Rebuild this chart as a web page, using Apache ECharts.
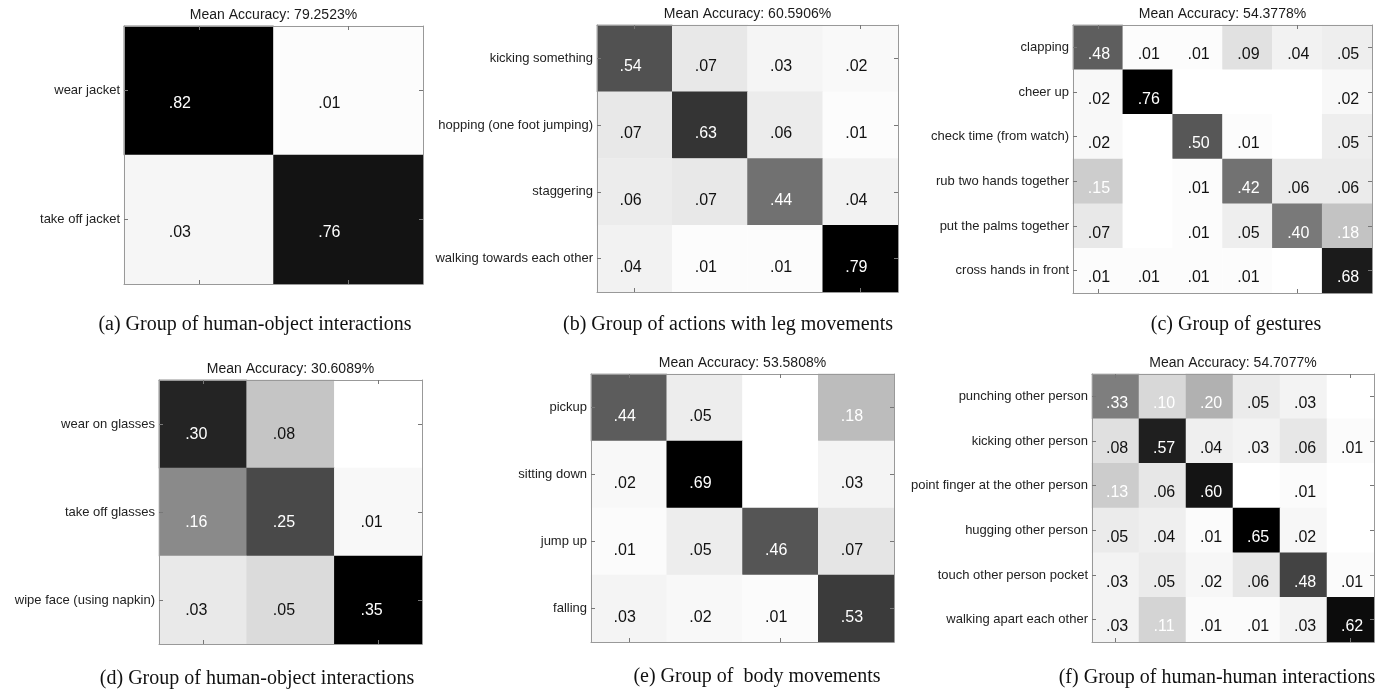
<!DOCTYPE html>
<html>
<head>
<meta charset="utf-8">
<title>Confusion matrices</title>
<script src="https://cdn.jsdelivr.net/npm/echarts@6/dist/echarts.min.js"></script>
<style>
  html, body { margin: 0; padding: 0; background: #fff; }
  #container { width: 1395px; height: 694px; }
</style>
</head>
<body>
<div id="container"></div>
<script>
// (a) human-object interactions
const aLabels = ['wear jacket', 'take off jacket'];
const aValues = [
  [0.82, 0.01],
  [0.03, 0.76]
];
const aMean = 'Mean Accuracy: 79.2523%';
const aCaption = '(a) Group of human-object interactions';

// (b) leg movements
const bLabels = ['kicking something', 'hopping (one foot jumping)', 'staggering', 'walking towards each other'];
const bValues = [
  [0.54, 0.07, 0.03, 0.02],
  [0.07, 0.63, 0.06, 0.01],
  [0.06, 0.07, 0.44, 0.04],
  [0.04, 0.01, 0.01, 0.79]
];
const bMean = 'Mean Accuracy: 60.5906%';
const bCaption = '(b) Group of actions with leg movements';

// (c) gestures
const cLabels = ['clapping', 'cheer up', 'check time (from watch)', 'rub two hands together', 'put the palms together', 'cross hands in front'];
const cValues = [
  [0.48, 0.01, 0.01, 0.09, 0.04, 0.05],
  [0.02, 0.76, 0, 0, 0, 0.02],
  [0.02, 0, 0.50, 0.01, 0, 0.05],
  [0.15, 0, 0.01, 0.42, 0.06, 0.06],
  [0.07, 0, 0.01, 0.05, 0.40, 0.18],
  [0.01, 0.01, 0.01, 0.01, 0, 0.68]
];
const cMean = 'Mean Accuracy: 54.3778%';
const cCaption = '(c) Group of gestures';

// (d) human-object interactions
const dLabels = ['wear on glasses', 'take off glasses', 'wipe face (using napkin)'];
const dValues = [
  [0.30, 0.08, 0],
  [0.16, 0.25, 0.01],
  [0.03, 0.05, 0.35]
];
const dMean = 'Mean Accuracy: 30.6089%';
const dCaption = '(d) Group of human-object interactions';

// (e) body movements
const eLabels = ['pickup', 'sitting down', 'jump up', 'falling'];
const eValues = [
  [0.44, 0.05, 0, 0.18],
  [0.02, 0.69, 0, 0.03],
  [0.01, 0.05, 0.46, 0.07],
  [0.03, 0.02, 0.01, 0.53]
];
const eMean = 'Mean Accuracy: 53.5808%';
const eCaption = '(e) Group of  body movements';

// (f) human-human interactions
const fLabels = ['punching other person', 'kicking other person', 'point finger at the other person', 'hugging other person', 'touch other person pocket', 'walking apart each other'];
const fValues = [
  [0.33, 0.10, 0.20, 0.05, 0.03, 0],
  [0.08, 0.57, 0.04, 0.03, 0.06, 0.01],
  [0.13, 0.06, 0.60, 0, 0.01, 0],
  [0.05, 0.04, 0.01, 0.65, 0.02, 0],
  [0.03, 0.05, 0.02, 0.06, 0.48, 0.01],
  [0.03, 0.11, 0.01, 0.01, 0.03, 0.62]
];
const fMean = 'Mean Accuracy: 54.7077%';
const fCaption = '(f) Group of human-human interactions';

// layout of each panel: grid box [left, top, width, height], title y, caption centre
const panels = [
  { labels: aLabels, values: aValues, mean: aMean, caption: aCaption, box: [124, 26, 299, 258], titleY: 15, capX: 255, capY: 325 },
  { labels: bLabels, values: bValues, mean: bMean, caption: bCaption, box: [597, 25, 301, 267], titleY: 14, capX: 728, capY: 325 },
  { labels: cLabels, values: cValues, mean: cMean, caption: cCaption, box: [1073, 25, 299, 268], titleY: 14, capX: 1236, capY: 325 },
  { labels: dLabels, values: dValues, mean: dMean, caption: dCaption, box: [159, 380, 263, 264], titleY: 369, capX: 257, capY: 679 },
  { labels: eLabels, values: eValues, mean: eMean, caption: eCaption, box: [591, 374, 303, 268], titleY: 363, capX: 757, capY: 677 },
  { labels: fLabels, values: fValues, mean: fMean, caption: fCaption, box: [1092, 374, 282, 268], titleY: 363, capX: 1217, capY: 678 }
];

const sansFont = '"Liberation Sans", Arial, sans-serif';
const serifFont = '"Liberation Serif", "Times New Roman", serif';
const boxLine = { show: true, onZero: false, lineStyle: { color: '#999', width: 1 } };
const tick = { show: true, inside: true, length: 4, alignWithLabel: true, lineStyle: { color: '#777' } };

function fmt(v) {
  if (!v) return '';
  return '.' + String(Math.round(v * 100)).padStart(2, '0');
}

let chartDom = document.getElementById('container');
let myChart = echarts.init(chartDom, null, { renderer: 'canvas' });
let option = {
  animation: false,
  backgroundColor: '#fff',
  grid: [],
  xAxis: [],
  yAxis: [],
  visualMap: [],
  series: [],
  graphic: []
};

panels.forEach(function (p, i) {
  const [left, top, w, h] = p.box;
  const n = p.labels.length;
  const cw = w / n;
  const ch = h / n;
  // the numbers sit a little left of and below the cell centre in the original
  const offset = [11 - 0.2 * cw, 4 + 0.07 * ch];

  option.grid.push({ left: left, top: top, width: w, height: h });

  // bottom and top x axes (only ticks + box line)
  ['bottom', 'top'].forEach(function (pos) {
    option.xAxis.push({
      type: 'category', gridIndex: i, position: pos, data: p.labels, z: 3,
      axisLine: boxLine, axisTick: tick, axisLabel: { show: false },
      splitLine: { show: false }
    });
  });
  // left y axis with the class names, right one just for the box
  ['left', 'right'].forEach(function (pos) {
    option.yAxis.push({
      type: 'category', gridIndex: i, position: pos, data: p.labels, inverse: true, z: 3,
      axisLine: boxLine, axisTick: tick,
      axisLabel: { show: pos === 'left', color: '#222', fontSize: 13, fontFamily: sansFont, margin: 4 },
      splitLine: { show: false }
    });
  });

  const data = [];
  let maxVal = 0;
  p.values.forEach(function (row, r) {
    row.forEach(function (v, c) {
      maxVal = Math.max(maxVal, v);
      data.push({ value: [c, r, v], label: { color: v >= 0.1 ? '#fff' : '#111' } });
    });
  });

  option.visualMap.push({
    type: 'continuous', show: false, seriesIndex: i, dimension: 2,
    min: 0, max: maxVal, inRange: { color: ['#ffffff', '#000000'] }
  });

  option.series.push({
    type: 'heatmap',
    xAxisIndex: 2 * i,
    yAxisIndex: 2 * i,
    data: data,
    itemStyle: { borderWidth: 0 },
    emphasis: { disabled: true },
    label: {
      show: true,
      fontSize: 16,
      fontFamily: sansFont,
      offset: offset,
      formatter: function (params) { return fmt(params.value[2]); }
    }
  });

  option.graphic.push({
    type: 'text', x: left + w / 2, y: p.titleY,
    style: { text: p.mean, fill: '#1a1a1a', font: '14px ' + sansFont,
      align: 'center', verticalAlign: 'middle', textAlign: 'center', textVerticalAlign: 'middle' }
  });
  option.graphic.push({
    type: 'text', x: p.capX, y: p.capY,
    style: { text: p.caption, fill: '#111', font: '20px ' + serifFont,
      align: 'center', verticalAlign: 'middle', textAlign: 'center', textVerticalAlign: 'middle' }
  });
});

option && myChart.setOption(option);
window.addEventListener('resize', function () {
  myChart.resize();
});
</script>
</body>
</html>
